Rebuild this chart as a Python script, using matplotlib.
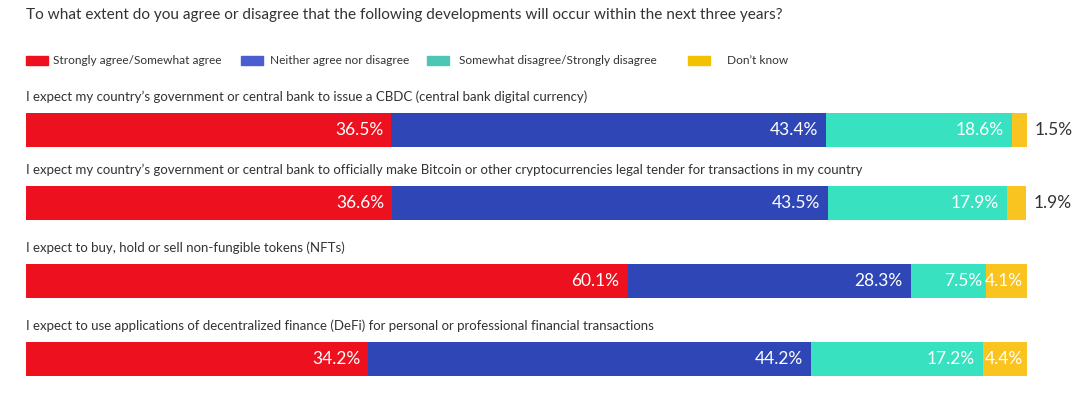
import matplotlib.pyplot as plt
from matplotlib.patches import Rectangle

plt.rcParams['font.family'] = ['Lato', 'DejaVu Sans']

title = 'To what extent do you agree or disagree that the following developments will occur within the next three years?'
series = ['Strongly agree/Somewhat agree', 'Neither agree nor disagree',
          'Somewhat disagree/Strongly disagree', 'Don\u2019t know']
questions = [
    'I expect my country\u2019s government or central bank to issue a CBDC (central bank digital currency)',
    'I expect my country\u2019s government or central bank to officially make Bitcoin or other cryptocurrencies legal tender for transactions in my country',
    'I expect to buy, hold or sell non-fungible tokens (NFTs)',
    'I expect to use applications of decentralized finance (DeFi) for personal or professional financial transactions',
]
agree = [36.5, 36.6, 60.1, 34.2]
neither = [43.4, 43.5, 28.3, 44.2]
disagree = [18.6, 17.9, 7.5, 17.2]
dont_know = [1.5, 1.9, 4.1, 4.4]

colors = ['#ED1120', '#2F47B6', '#38E2C0', '#F9C320']
legend_colors = ['#ED1120', '#4A5ECF', '#4DC6B5', '#F2C200']
text_dark = '#333333'

W, H = 1080, 396
fig = plt.figure(figsize=(W / 100, H / 100), dpi=100)

# bars span x 26..1027 px; each row one axes
bar_tops = [113, 186, 264, 342]
bar_h = 34
left_px, right_px = 26, 1027

fig.text(26 / W, 1 - 15 / H, title, fontsize=11.1, color=text_dark, va='center', ha='left')

# legend drawn by hand
leg_x = [26, 241, 427, 688]
leg_tx = [53, 270, 459, 727]
for i in range(4):
    fig.patches.append(Rectangle((leg_x[i] / W, 1 - 65 / H), 22 / W, 9 / H,
                                 transform=fig.transFigure, color=legend_colors[i]))
    fig.text(leg_tx[i] / W, 1 - 60.5 / H, series[i], fontsize=8.6, color=text_dark,
             va='center', ha='left')

data = [agree, neither, disagree, dont_know]
for r in range(len(questions)):
    top = bar_tops[r]
    fig.text(26 / W, 1 - (top - 16) / H, questions[r], fontsize=9.5, color=text_dark,
             va='center', ha='left')
    ax = fig.add_axes([left_px / W, 1 - (top + bar_h) / H, (right_px - left_px) / W, bar_h / H])
    ax.set_xlim(0, 100)
    ax.set_ylim(0, 1)
    ax.axis('off')
    start = 0
    for k in range(4):
        v = data[k][r]
        ax.barh(0.5, v, left=start, height=1, color=colors[k], edgecolor='none')
        end = start + v
        if v >= 3:
            pad = 0.8 if v > 10 else 0.4
            ax.text(end - pad, 0.5, f'{v}%', color='white', fontsize=12.5,
                    ha='right', va='center')
        else:
            ax.text(end + 0.8, 0.5, f'{v}%', color=text_dark, fontsize=12.5,
                    ha='left', va='center', clip_on=False)
        start = end

fig.savefig('out.png', dpi=100)
